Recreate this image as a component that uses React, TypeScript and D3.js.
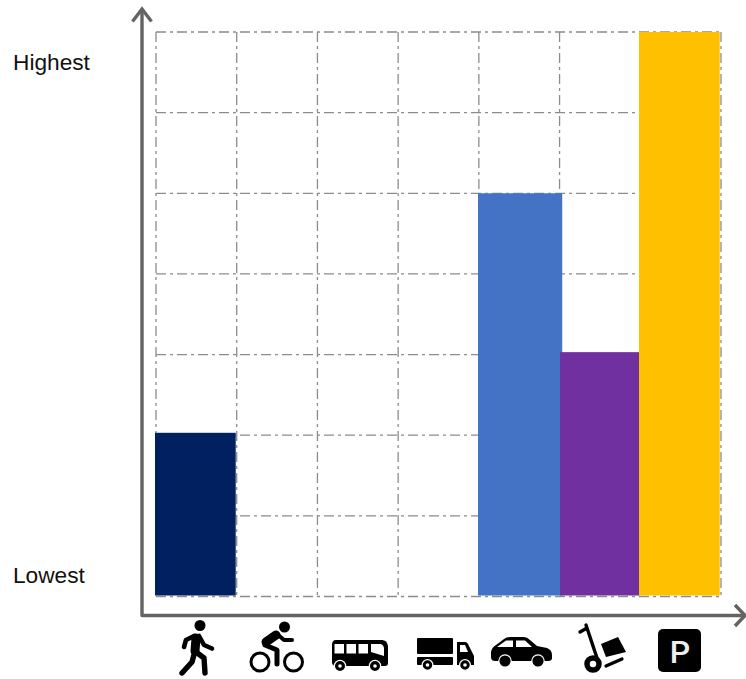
import React from "react";
import * as d3 from "d3";

const categories = ["walk", "cycle", "bus", "truck", "car", "trolley", "parking"];
const barValues = [2.03, 0, 0, 0, 5, 3.03, 7];
const barColors = ["#002060", "none", "none", "none", "#4472C4", "#7030A0", "#FFC000"];
const levelTicks = d3.range(0, 8);
const levelLabels = ["Lowest", "Highest"];

const WIDTH = 746;
const HEIGHT = 679;
const plot = { left: 156, right: 721, top: 32, bottom: 596.5 };

const x = d3.scaleLinear().domain([0, categories.length]).range([plot.left, plot.right]);
const y = d3.scaleLinear().domain([0, 7]).range([plot.bottom, plot.top]);

const AXIS = "#636363";
const GRID = "#8c8c8c";

// Each glyph is drawn in page units around its own column
function WalkIcon() {
  return (
    <g fill="none" stroke="#000" strokeLinecap="round" strokeLinejoin="round">
      <circle cx={200} cy={625.500} r={5.5} fill="#000" stroke="none" />
      <path d="M196 638 L195 651" strokeWidth={9} />
      <path d="M194 636 L186 640 L184 647" strokeWidth={4.6} />
      <path d="M199 636 L204 645 L212 648.500" strokeWidth={4.6} />
      <path d="M195 651 L192 662 L182 673" strokeWidth={5.4} />
      <path d="M196 652 L204 658 L205 673" strokeWidth={5.4} />
    </g>
  );
}

function CycleIcon() {
  return (
    <g fill="none" stroke="#000" strokeLinecap="round" strokeLinejoin="round">
      <circle cx={284.5} cy={627} r={5.5} fill="#000" stroke="none" />
      <circle cx={260} cy={662} r={9} strokeWidth={3} />
      <circle cx={293.5} cy={662} r={9} strokeWidth={3} />
      <path d="M276 635 L266 642" strokeWidth={9} />
      <path d="M277 634 L284 640 L292 640" strokeWidth={4} />
      <path d="M265 645 L277 650 L277 664" strokeWidth={5} />
    </g>
  );
}

function BusIcon() {
  return (
    <g>
      <path d="M336 640 H382 Q387 640 388 646 V663 Q388 666 385 666 H336 Q332 666 332 662 V645 Q332 640 336 640 Z" fill="#000" />
      {[334.5, 346.5, 358.5].map((wx) => (
        <rect key={wx} x={wx} y={644} width={9.5} height={9.5} fill="#fff" />
      ))}
      <path d="M371 644 H380 Q383 644 384 648 V656 L371 652 Z" fill="#fff" />
      {[340, 375].map((cx) => (
        <g key={cx}>
          <circle cx={cx} cy={666} r={5.6} fill="#000" stroke="#fff" strokeWidth={1.2} />
          <circle cx={cx} cy={666} r={1.8} fill="#fff" />
        </g>
      ))}
    </g>
  );
}

function TruckIcon() {
  return (
    <g>
      <rect x={417} y={638} width={36} height={16} rx={1} fill="#000" />
      <rect x={417} y={657} width={36} height={8} rx={1} fill="#000" />
      <path d="M457 642 H465 Q467 642 468 644 L474 656 V665 H457 Z" fill="#000" />
      <path d="M460 645 H465 L468 652 H460 Z" fill="#fff" />
      {[427.5, 465].map((cx) => (
        <g key={cx}>
          <circle cx={cx} cy={665} r={5.4} fill="#000" stroke="#fff" strokeWidth={1.3} />
          <circle cx={cx} cy={665} r={1.8} fill="#fff" />
        </g>
      ))}
    </g>
  );
}

function CarIcon() {
  return (
    <g>
      <path d="M491 652 Q492 647 496 645 L504 639 Q506 637 510 637 H524 Q527 637 530 640 L537 646 L547 648 Q552 650 552 655 V658 Q552 661 548 661 H495 Q491 661 491 657 Z" fill="#000" />
      <path d="M497 647 L506 640.500 H513 V647 Z" fill="#fff" />
      <path d="M516 640.500 H525 L532 647 H516 Z" fill="#fff" />
      {[505, 538].map((cx) => (
        <circle key={cx} cx={cx} cy={661} r={6.2} fill="#000" stroke="#fff" strokeWidth={1.2} />
      ))}
    </g>
  );
}

function TrolleyIcon() {
  return (
    <g>
      <path d="M580 632 L587 628 M586 625 L597 658" stroke="#000" strokeWidth={3.4} strokeLinecap="round" fill="none" />
      <path d="M601 644 L618 637 L626 652 L606 657 Z" fill="#000" />
      <path d="M606 666 L622 659" stroke="#000" strokeWidth={3.2} strokeLinecap="round" />
      <circle cx={593} cy={664} r={6} fill="#fff" stroke="#000" strokeWidth={5.5} />
    </g>
  );
}

function ParkingIcon() {
  return (
    <g>
      <rect x={658} y={629} width={43} height={43} rx={5} fill="#000" />
      <text x={680} y={663} textAnchor="middle" fontFamily="Roboto, sans-serif" fontSize={32} fontWeight={500} fill="#eee">P</text>
    </g>
  );
}

const icons = [WalkIcon, CycleIcon, BusIcon, TruckIcon, CarIcon, TrolleyIcon, ParkingIcon];

export default function App() {
  const step = x(1) - x(0);
  return (
    <svg
      width={WIDTH}
      height={HEIGHT}
      viewBox={`0 0 ${WIDTH} ${HEIGHT}`}
      style={{ position: "absolute", left: 0, top: 0, background: "#fff" }}
    >
      {/* grid */}
      <g stroke={GRID} strokeWidth={1.3} strokeDasharray="10 4 3 4" fill="none">
        {levelTicks.map((t) => (
          <line key={t} x1={plot.left} x2={plot.right} y1={y(t)} y2={y(t)} />
        ))}
        {d3.range(0, categories.length + 1).map((i) => (
          <line key={i} x1={x(i)} x2={x(i)} y1={plot.top} y2={plot.bottom} />
        ))}
      </g>

      {/* bars: the car column runs slightly under the trolley column */}
      <g>
        {categories.map((c, i) =>
          barValues[i] > 0 ? (
            <rect
              key={c}
              x={Math.round(x(i)) - (c === "trolley" ? 0 : 1)}
              y={y(barValues[i])}
              width={c === "car" ? step + 3.5 : step - (c === "trolley" ? 1 : 0)}
              height={y(0) - y(barValues[i]) - 1}
              fill={barColors[i]}
            />
          ) : null
        )}
      </g>

      {/* axes */}
      <g fill="none" stroke={AXIS} strokeWidth={3.4}>
        <path d="M142 9 V615.5 H745" strokeLinejoin="round" />
        <path d="M132.500 21.500 L142 9 L151.500 21.500" />
        <path d="M735 605 L745 615.500 L735 626" />
      </g>

      {/* level labels */}
      <g fontFamily="'Liberation Sans', Arial, sans-serif" fontSize={22.7} fill="#111">
        <text x={13} y={70}>{levelLabels[1]}</text>
        <text x={13} y={583}>{levelLabels[0]}</text>
      </g>

      {/* category glyphs */}
      {icons.map((Icon, i) => (
        <Icon key={categories[i]} />
      ))}
    </svg>
  );
}
